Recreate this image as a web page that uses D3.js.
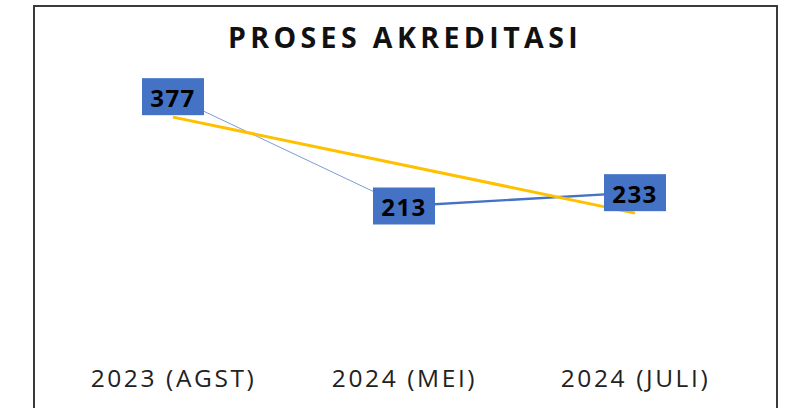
<!DOCTYPE html>
<html>
<head>
<meta charset="utf-8">
<script src="https://cdn.jsdelivr.net/npm/d3@7"></script>
<style>
  html, body { margin: 0; padding: 0; background: #fff; }
  svg { display: block; font-family: "Open Sans", sans-serif; }
</style>
</head>
<body>
<svg id="chart" width="788" height="408"></svg>
<script>
// data
const categories = ["2023 (AGST)", "2024 (MEI)", "2024 (JULI)"];
const values = [377, 213, 233];
const yTicks = [0, 450];   // hidden value axis limits

const width = 788, height = 408;
const svg = d3.select("#chart");

// frame of the chart area
svg.append("rect")
    .attr("x", 34).attr("y", 6)
    .attr("width", 743).attr("height", 430)
    .attr("fill", "#fff")
    .attr("stroke", "#3a3a3a")
    .attr("stroke-width", 2);

svg.append("text")
    .attr("x", 405).attr("y", 48)
    .attr("text-anchor", "middle")
    .style("font-size", "28.5px")
    .style("font-weight", 700)
    .style("letter-spacing", "4.4px")
    .attr("fill", "#111")
    .text("PROSES AKREDITASI");

const x = d3.scalePoint()
    .domain(categories)
    .range([57.5, 750.5])
    .padding(0.5);

const y = d3.scaleLinear()
    .domain(d3.extent(yTicks))
    .range([348, 48]);

const points = categories.map((c, i) => ({name: c, value: values[i]}));

// category axis, labels only
const xAxis = svg.append("g")
    .attr("class", "xAxis")
    .attr("transform", "translate(0,365)")
    .call(d3.axisBottom(x).tickSize(0).tickPadding(0));
xAxis.select(".domain").remove();
xAxis.selectAll("text")
    .attr("dy", "0.9em")
    .style("font-family", "'Open Sans', sans-serif")
    .style("font-size", "24.5px")
    .style("letter-spacing", "2.6px")
    .attr("fill", "#222");

// linear trendline (least squares over category index)
const n = values.length;
const mx = d3.mean(d3.range(n)), my = d3.mean(values);
const slope = d3.sum(d3.range(n), i => (i - mx) * (values[i] - my)) /
              d3.sum(d3.range(n), i => (i - mx) * (i - mx));
const trend = i => my + slope * (i - mx);

const ChartBody = svg.append("g").attr("class", "chartBody");

// series line, segment by segment
const segs = d3.pairs(points);
ChartBody.selectAll(".seg")
    .data(segs)
    .enter().append("line")
    .attr("class", "seg")
    .attr("x1", d => x(d[0].name)).attr("y1", d => y(d[0].value))
    .attr("x2", d => x(d[1].name)).attr("y2", d => y(d[1].value))
    .attr("stroke", "#4472C4")
    .attr("stroke-width", (d, i) => i === 0 ? 1 : 2.4)
    .attr("stroke-opacity", (d, i) => i === 0 ? 0.7 : 1);

ChartBody.append("line")
    .attr("class", "trend")
    .attr("x1", x(categories[0])).attr("y1", y(trend(0)))
    .attr("x2", x(categories[n - 1])).attr("y2", y(trend(n - 1)))
    .attr("stroke", "#FFC000")
    .attr("stroke-width", 3);

// data labels
const lab = ChartBody.selectAll(".label")
    .data(points)
    .enter().append("g")
    .attr("class", "label")
    .attr("transform", d => `translate(${x(d.name)},${y(d.value)})`);

lab.append("rect")
    .attr("x", -31).attr("y", -18.5)
    .attr("width", 62).attr("height", 37)
    .attr("fill", "#4472C4");

lab.append("text")
    .attr("text-anchor", "middle")
    .attr("dy", "0.42em")
    .style("font-size", "24px")
    .style("font-weight", 700)
    .style("letter-spacing", "1.5px")
    .attr("fill", "#000")
    .text(d => d.value);
</script>
</body>
</html>
